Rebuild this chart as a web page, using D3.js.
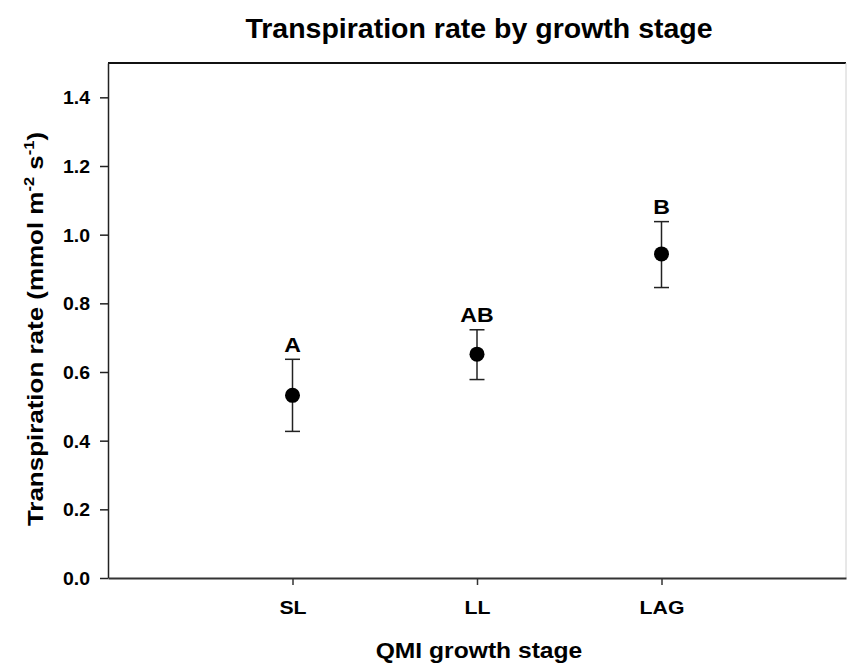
<!DOCTYPE html>
<html>
<head>
<meta charset="utf-8">
<script src="https://cdn.jsdelivr.net/npm/d3@7"></script>
<style>
  body { margin: 0; background: #fff; }
  text { font-family: "Liberation Sans", Arial, sans-serif; font-weight: bold; fill: #000; }
</style>
</head>
<body>
<div id="chart"></div>
<script>
// data
var stages = ["SL", "LL", "LAG"]
var means = [0.532, 0.652, 0.944]
var errLow = [0.427, 0.578, 0.846]
var errHigh = [0.637, 0.723, 1.038]
var letters = ["A", "AB", "B"]
var yTicks = [0.0, 0.2, 0.4, 0.6, 0.8, 1.0, 1.2, 1.4]

var W = 847, H = 668
var margin = {left: 108, right: 1, top: 63, bottom: 90}
var width = W - margin.left - margin.right
var height = H - margin.top - margin.bottom

var svg = d3.select('#chart').append('svg')
    .attr('width', W).attr('height', H)

var g = svg.append('g')
    .attr('transform', 'translate(' + margin.left + ',' + margin.top + ')')

var x = d3.scalePoint().domain(stages).range([0, width]).padding(1)
var y = d3.scaleLinear().domain([0, 1.5]).range([height, 0])

// frame: top dark, right faint (cut at the edge)
g.append('line').attr('x1', 0).attr('x2', width).attr('y1', 0).attr('y2', 0)
    .attr('stroke', '#111').attr('stroke-width', 2)
g.append('line').attr('x1', width).attr('x2', width).attr('y1', 0).attr('y2', height)
    .attr('stroke', '#d0d0d0').attr('stroke-width', 1)

// y axis
var yAxis = g.append('g')
    .call(d3.axisLeft(y).tickValues(yTicks).tickSize(8).tickPadding(10)
      .tickFormat(d3.format('.1f')).tickSizeOuter(0))
yAxis.select('.domain').attr('stroke', '#222').attr('stroke-width', 1.5)
yAxis.selectAll('.tick line').attr('stroke', '#222').attr('stroke-width', 1.5)
yAxis.selectAll('.tick text')
    .style('font-size', '18px')
    .attr('dy', '0.36em')
    .attr('transform', 'translate(-18,0) scale(1.08,1) translate(18,0)')

// x axis
var xAxis = g.append('g')
    .attr('transform', 'translate(0,' + height + ')')
    .call(d3.axisBottom(x).tickSize(7).tickPadding(16).tickSizeOuter(0))
xAxis.select('.domain').attr('stroke', '#333').attr('stroke-width', 2.2)
xAxis.selectAll('.tick line').attr('stroke', '#333').attr('stroke-width', 1.5)
xAxis.selectAll('.tick text')
    .style('font-size', '18px')
    .attr('transform', 'scale(1.18,1)')

// error bars
var cap = 7.5
var bars = g.append('g').selectAll('g').data(stages).enter().append('g')
bars.append('line')
    .attr('x1', function(d){ return x(d) }).attr('x2', function(d){ return x(d) })
    .attr('y1', function(d, i){ return y(errLow[i]) })
    .attr('y2', function(d, i){ return y(errHigh[i]) })
    .attr('stroke', '#222').attr('stroke-width', 1.5)
bars.append('line')
    .attr('x1', function(d){ return x(d) - cap }).attr('x2', function(d){ return x(d) + cap })
    .attr('y1', function(d, i){ return y(errHigh[i]) })
    .attr('y2', function(d, i){ return y(errHigh[i]) })
    .attr('stroke', '#222').attr('stroke-width', 1.5)
bars.append('line')
    .attr('x1', function(d){ return x(d) - cap }).attr('x2', function(d){ return x(d) + cap })
    .attr('y1', function(d, i){ return y(errLow[i]) })
    .attr('y2', function(d, i){ return y(errLow[i]) })
    .attr('stroke', '#222').attr('stroke-width', 1.5)
bars.append('circle')
    .attr('cx', function(d){ return x(d) })
    .attr('cy', function(d, i){ return y(means[i]) })
    .attr('r', 7.5)
    .attr('fill', '#000')

// significance letters
bars.append('text')
    .attr('transform', function(d, i){
      return 'translate(' + x(d) + ',' + (y(errHigh[i]) - 7.5) + ') scale(1.1,1)' })
    .attr('text-anchor', 'middle')
    .style('font-size', '21px')
    .text(function(d, i){ return letters[i] })

// title
svg.append('text')
    .attr('x', margin.left + width / 2 + 2).attr('y', 38)
    .attr('text-anchor', 'middle')
    .style('font-size', '28.5px')
    .text('Transpiration rate by growth stage')

// x title
svg.append('text')
    .attr('transform', 'translate(' + (margin.left + width / 2 + 2) + ',658) scale(1.12,1)')
    .attr('text-anchor', 'middle')
    .style('font-size', '22px')
    .text('QMI growth stage')

// y title
var yt = svg.append('text')
    .attr('transform', 'translate(43,329) rotate(-90) scale(1.18,1)')
    .attr('text-anchor', 'middle')
    .style('font-size', '22px')
yt.append('tspan').text('Transpiration rate (mmol m')
yt.append('tspan').attr('dy', -9).style('font-size', '14px').text('-2')
yt.append('tspan').attr('dy', 9).text(' s')
yt.append('tspan').attr('dy', -9).style('font-size', '14px').text('-1')
yt.append('tspan').attr('dy', 9).text(')')
</script>
</body>
</html>
